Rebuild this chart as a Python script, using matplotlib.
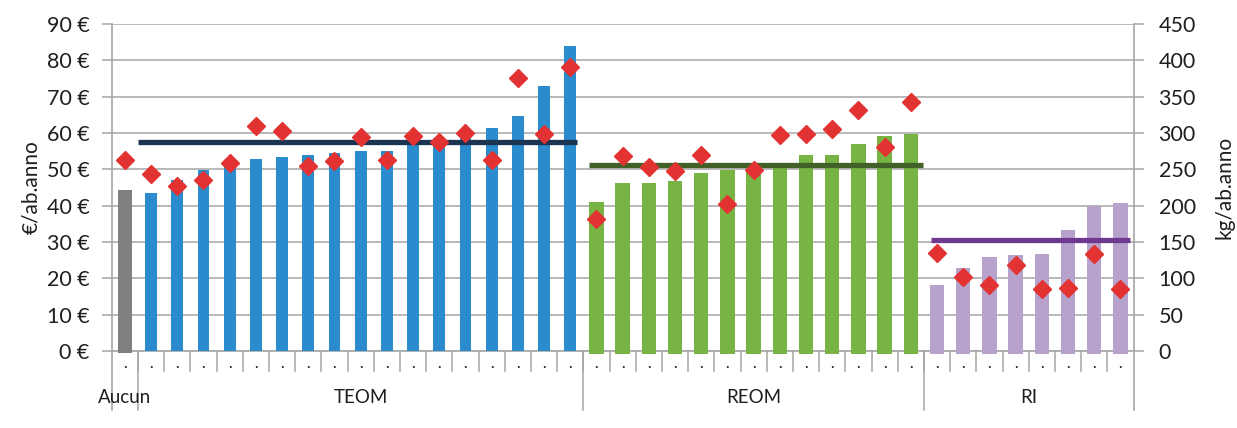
import matplotlib
matplotlib.use("Agg")
import matplotlib.pyplot as plt
import numpy as np

# ---------------- data ----------------
group_names = ["Aucun", "TEOM", "REOM", "RI"]

cost_aucun = [44.2]
cost_teom = [43.5, 47.0, 49.8, 51.5, 52.8, 53.3, 53.9, 54.4, 54.9, 54.9,
             58.5, 58.6, 59.5, 61.5, 64.6, 73.0, 83.8]
cost_reom = [41.0, 46.3, 46.3, 46.7, 49.1, 49.9, 51.0, 51.8, 54.0, 54.0,
             56.9, 59.3, 59.7]
cost_ri = [18.2, 22.7, 25.9, 26.4, 26.8, 33.3, 39.9, 40.6]

kg_aucun = [263]
kg_teom = [244, 227, 235, 258, 310, 303, 254, 262, 295, 263, 296, 288, 300,
           263, 376, 299, 391]
kg_reom = [182, 268, 253, 247, 270, 202, 249, 297, 298, 306, 332, 281, 342]
kg_ri = [135, 102, 91, 118, 85, 86, 134, 85]

avg_teom = 57.4
avg_reom = 51.3
avg_ri = 30.6

left_ticks = [0, 10, 20, 30, 40, 50, 60, 70, 80, 90]
right_ticks = [0, 50, 100, 150, 200, 250, 300, 350, 400, 450]

# ---------------- styles ----------------
plt.rcParams['font.family'] = ['Lato', 'DejaVu Sans']
txt = "#1F1F1F"
grid_c = "#A6A6A6"
c_gray = "#7F7F7F"
c_blue = "#2B8CCD"
c_green = "#77B443"
c_purple = "#B7A2CB"
c_red = "#E23232"
c_teom_line = "#1B3452"
c_reom_line = "#426128"
c_ri_line = "#6E3A90"

fig = plt.figure(figsize=(12.37, 4.28), dpi=100)
ax = fig.add_axes([0.0903, 0.180, 0.8261, 0.764])
ax2 = ax.twinx()

costs = [cost_aucun, cost_teom, cost_reom, cost_ri]
kgs = [kg_aucun, kg_teom, kg_reom, kg_ri]
colors = [c_gray, c_blue, c_green, c_purple]
widths = [0.54, 0.45, 0.55, 0.55]
bottoms = [-0.6, 0, -0.7, -0.7]

n_total = sum(len(c) for c in costs)
starts = []
pos = 0
for c in costs:
    starts.append(pos)
    pos += len(c)

for g, c in enumerate(costs):
    x = np.arange(starts[g], starts[g] + len(c))
    vals = np.array(c)
    ax.bar(x, vals - bottoms[g], bottom=bottoms[g], width=widths[g],
           color=colors[g], zorder=3, clip_on=False)

# average lines (in category units)
ax.plot([starts[1] - 0.5, starts[1] + len(cost_teom) - 0.74], [avg_teom] * 2,
        color=c_teom_line, lw=3.8, zorder=4, solid_capstyle='butt')
ax.plot([starts[2] - 0.3, starts[2] + len(cost_reom) - 0.55], [avg_reom] * 2,
        color=c_reom_line, lw=3.8, zorder=4, solid_capstyle='butt')
ax.plot([starts[3] - 0.25, starts[3] + len(cost_ri) - 0.65], [avg_ri] * 2,
        color=c_ri_line, lw=3.8, zorder=4, solid_capstyle='butt')

ax.set_xlim(-0.5, n_total - 0.5)
ax.set_ylim(0, 90)
ax2.set_ylim(0, 450)

# diamonds on right axis
for g, k in enumerate(kgs):
    x = np.arange(starts[g], starts[g] + len(k))
    ax2.plot(x, k, linestyle='none', marker='D', markersize=9.5,
             color=c_red, markeredgecolor=c_red, zorder=5, clip_on=False)

ax.set_zorder(1)
ax2.set_zorder(2)
ax.patch.set_visible(False)
ax2.patch.set_visible(False)

# grid
ax.set_yticks(left_ticks)
ax.yaxis.grid(True, color=grid_c, lw=1.1, zorder=0)
ax.set_yticklabels([f"{v} €" for v in left_ticks], fontsize=15.5, color=txt)
ax2.set_yticks(right_ticks)
ax2.set_yticklabels([str(v) for v in right_ticks], fontsize=15.5, color=txt)
ax.tick_params(axis='y', length=7, width=1.1, color=grid_c, pad=9)
ax2.tick_params(axis='y', length=7, width=1.1, color=grid_c, pad=11)

for a in (ax, ax2):
    for s in a.spines.values():
        s.set_visible(False)
ax.set_xticks([])
ax2.set_xticks([])

ax.set_ylabel("€/ab.anno", fontsize=15, color=txt, labelpad=4)
ax2.set_ylabel("kg/ab.anno", fontsize=15, color=txt, labelpad=13)

# custom axis lines
lc = grid_c
lo = -0.5
hi = n_total - 0.5
ax.plot([lo, hi], [0, 0], color=lc, lw=1.2, zorder=2, clip_on=False)
ax.plot([lo, lo], [-16.2, 90], color=lc, lw=1.2, zorder=2, clip_on=False)
ax.plot([hi, hi], [-16.2, 90], color=lc, lw=1.2, zorder=2, clip_on=False)

# small category ticks
for i in range(1, n_total):
    ax.plot([i - 0.5, i - 0.5], [0, -5.5], color=lc, lw=1.1, zorder=2,
            clip_on=False)
# group separators
for g in range(1, len(costs)):
    xb = starts[g] - 0.5
    ax.plot([xb, xb], [0, -16.2], color=lc, lw=1.1, zorder=2, clip_on=False)

# category dot labels
for i in range(n_total):
    ax.text(i, -4.4, "·", ha='center', va='center', fontsize=10, color=txt,
            clip_on=False)

# group labels
for g, name in enumerate(group_names):
    center = starts[g] + (len(costs[g]) - 1) / 2
    ax.text(center, -12.8, name, ha='center', va='center', fontsize=13.5,
            color=txt, clip_on=False)

fig.savefig("out.png", dpi=100)
